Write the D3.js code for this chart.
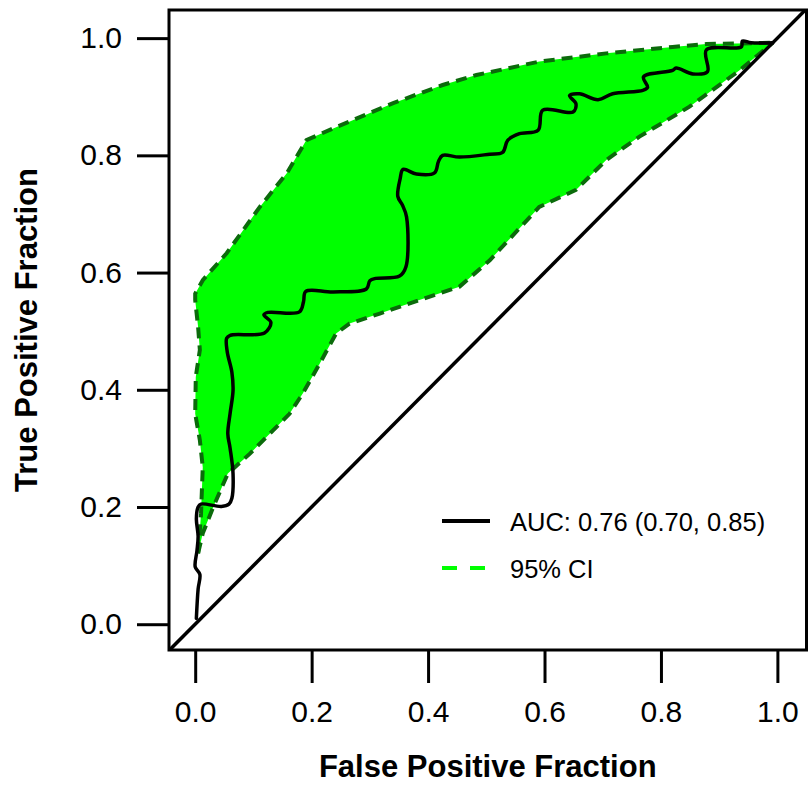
<!DOCTYPE html>
<html>
<head>
<meta charset="utf-8">
<script src="https://cdn.jsdelivr.net/npm/d3@7"></script>
<style>
  html, body { margin: 0; padding: 0; background: #fff; }
  svg { display: block; font-family: "Liberation Sans", Arial, Helvetica, sans-serif; }
</style>
</head>
<body>
<svg id="chart" width="810" height="785"></svg>
<script>
// Empirical ROC curve: [false positive fraction, true positive fraction]
const rocPoints = [
  [0.002,0.010],[0.005,0.060],[0.008,0.085],[0.000,0.098],[0.003,0.125],[0.005,0.150],
  [0.002,0.180],[0.005,0.200],[0.010,0.205],[0.045,0.201],[0.058,0.205],[0.063,0.215],
  [0.065,0.257],[0.060,0.300],[0.056,0.325],[0.060,0.360],[0.065,0.399],[0.063,0.430],
  [0.055,0.465],[0.054,0.488],[0.060,0.493],[0.119,0.497],[0.130,0.515],[0.118,0.528],
  [0.125,0.532],[0.179,0.533],[0.186,0.550],[0.190,0.568],[0.237,0.567],[0.294,0.572],
  [0.300,0.586],[0.310,0.590],[0.351,0.594],[0.362,0.610],[0.363,0.695],[0.356,0.715],
  [0.348,0.730],[0.352,0.760],[0.357,0.776],[0.380,0.768],[0.411,0.770],[0.418,0.790],
  [0.425,0.800],[0.454,0.797],[0.506,0.802],[0.528,0.805],[0.537,0.826],[0.557,0.837],
  [0.589,0.843],[0.597,0.877],[0.649,0.874],[0.654,0.888],[0.643,0.902],[0.660,0.905],
  [0.692,0.895],[0.717,0.905],[0.769,0.911],[0.777,0.916],[0.770,0.934],[0.820,0.945],
  [0.826,0.949],[0.855,0.939],[0.880,0.943],[0.878,0.980],[0.938,0.985],[0.940,0.995],
  [0.955,0.992],[0.992,0.992]
];

// Upper bound of the 95% confidence band
const ciUpper = [
  [0.005,0.121],[0.008,0.160],[0.010,0.189],[0.013,0.268],[0.008,0.314],[0.000,0.359],
  [0.001,0.422],[0.008,0.468],[0.005,0.507],[0.000,0.553],[0.000,0.564],[0.013,0.587],
  [0.054,0.633],[0.111,0.712],[0.157,0.769],[0.191,0.826],[0.237,0.846],[0.340,0.889],
  [0.425,0.920],[0.483,0.937],[0.591,0.960],[0.706,0.974],[0.820,0.985],[0.878,0.990],
  [0.992,0.992]
];

// Lower bound of the 95% confidence band
const ciLower = [
  [0.005,0.121],[0.013,0.155],[0.031,0.200],[0.056,0.257],[0.094,0.291],[0.128,0.325],
  [0.162,0.359],[0.185,0.394],[0.214,0.445],[0.242,0.496],[0.265,0.513],[0.317,0.530],
  [0.385,0.553],[0.454,0.576],[0.506,0.621],[0.591,0.712],[0.654,0.741],[0.706,0.792],
  [0.763,0.832],[0.849,0.883],[0.935,0.945],[0.992,0.992]
];

const xTicks = [0, 0.2, 0.4, 0.6, 0.8, 1.0];
const yTicks = [0, 0.2, 0.4, 0.6, 0.8, 1.0];
const legendLabels = ["AUC: 0.76 (0.70, 0.85)", "95% CI"];
const xTitle = "False Positive Fraction";
const yTitle = "True Positive Fraction";

const svg = d3.select("#chart");
const box = { left: 169, right: 806.5, top: 10, bottom: 650 };

const x = d3.scaleLinear().domain([-0.045, 1.05]).range([box.left, box.right]);
const y = d3.scaleLinear().domain([-0.044, 1.048]).range([box.bottom, box.top]);

svg.append("defs").append("clipPath").attr("id", "plotClip")
  .append("rect")
  .attr("x", box.left).attr("y", box.top)
  .attr("width", box.right - box.left).attr("height", box.bottom - box.top);

const plot = svg.append("g").attr("clip-path", "url(#plotClip)");

// Confidence band: upper bound forward, lower bound back
const bandPoly = ciUpper.concat(ciLower.slice().reverse());
plot.append("path")
  .attr("d", d3.line().x(d => x(d[0])).y(d => y(d[1]))(bandPoly) + "Z")
  .attr("fill", "#00ff00")
  .attr("stroke", "none");

const line = d3.line().x(d => x(d[0])).y(d => y(d[1]));
const smoothLine = d3.line().x(d => x(d[0])).y(d => y(d[1])).curve(d3.curveCatmullRom.alpha(0.5));

[ciUpper, ciLower].forEach(b => {
  plot.append("path")
    .attr("d", line(b))
    .attr("fill", "none")
    .attr("stroke", "#0b6b0b")
    .attr("stroke-width", 4)
    .attr("stroke-dasharray", "11,7");
});

// Chance diagonal
plot.append("line")
  .attr("x1", x(-0.1)).attr("y1", y(-0.1))
  .attr("x2", x(1.1)).attr("y2", y(1.1))
  .attr("stroke", "#000").attr("stroke-width", 3.5);

// ROC curve
plot.append("path")
  .attr("d", smoothLine(rocPoints))
  .attr("fill", "none")
  .attr("stroke", "#000")
  .attr("stroke-width", 3.5)
  .attr("stroke-linejoin", "round")
  .attr("stroke-linecap", "round");

// Plot frame
svg.append("rect")
  .attr("x", box.left).attr("y", box.top)
  .attr("width", box.right - box.left).attr("height", box.bottom - box.top)
  .attr("fill", "none").attr("stroke", "#000").attr("stroke-width", 3);

// Axes
const xAxis = d3.axisBottom(x).tickValues(xTicks).tickFormat(d3.format(".1f"))
  .tickSizeInner(33).tickSizeOuter(0).tickPadding(18);
const gx = svg.append("g").attr("transform", `translate(0,${box.bottom})`).call(xAxis);
gx.select(".domain").remove();
gx.selectAll(".tick line").attr("stroke", "#000").attr("stroke-width", 3);
gx.selectAll(".tick text").attr("font-size", 30).attr("fill", "#000")
  .attr("font-family", "Liberation Sans, Arial, sans-serif");

const yAxis = d3.axisLeft(y).tickValues(yTicks).tickFormat(d3.format(".1f"))
  .tickSizeInner(32).tickSizeOuter(0).tickPadding(15);
const gy = svg.append("g").attr("transform", `translate(${box.left},0)`).call(yAxis);
gy.select(".domain").remove();
gy.selectAll(".tick line").attr("stroke", "#000").attr("stroke-width", 3);
gy.selectAll(".tick text").attr("font-size", 30).attr("fill", "#000")
  .attr("font-family", "Liberation Sans, Arial, sans-serif");

// Axis titles
svg.append("text")
  .attr("x", (box.left + box.right) / 2).attr("y", 777)
  .attr("text-anchor", "middle")
  .attr("font-size", 31).attr("font-weight", "bold")
  .text(xTitle);

svg.append("text")
  .attr("transform", `translate(37,${(box.top + box.bottom) / 2}) rotate(-90)`)
  .attr("text-anchor", "middle")
  .attr("font-size", 31).attr("font-weight", "bold")
  .text(yTitle);

// Legend
const legend = svg.append("g");
legend.append("line")
  .attr("x1", 442).attr("x2", 490).attr("y1", 521).attr("y2", 521)
  .attr("stroke", "#000").attr("stroke-width", 4);
legend.append("line")
  .attr("x1", 442).attr("x2", 490).attr("y1", 568).attr("y2", 568)
  .attr("stroke", "#00ff00").attr("stroke-width", 4).attr("stroke-dasharray", "15,13");
legend.selectAll("text.lbl").data(legendLabels).enter().append("text")
  .attr("class", "lbl")
  .attr("x", 510)
  .attr("y", (d, i) => 531 + i * 47)
  .attr("font-size", 25.5)
  .attr("fill", "#000")
  .text(d => d);
</script>
</body>
</html>
